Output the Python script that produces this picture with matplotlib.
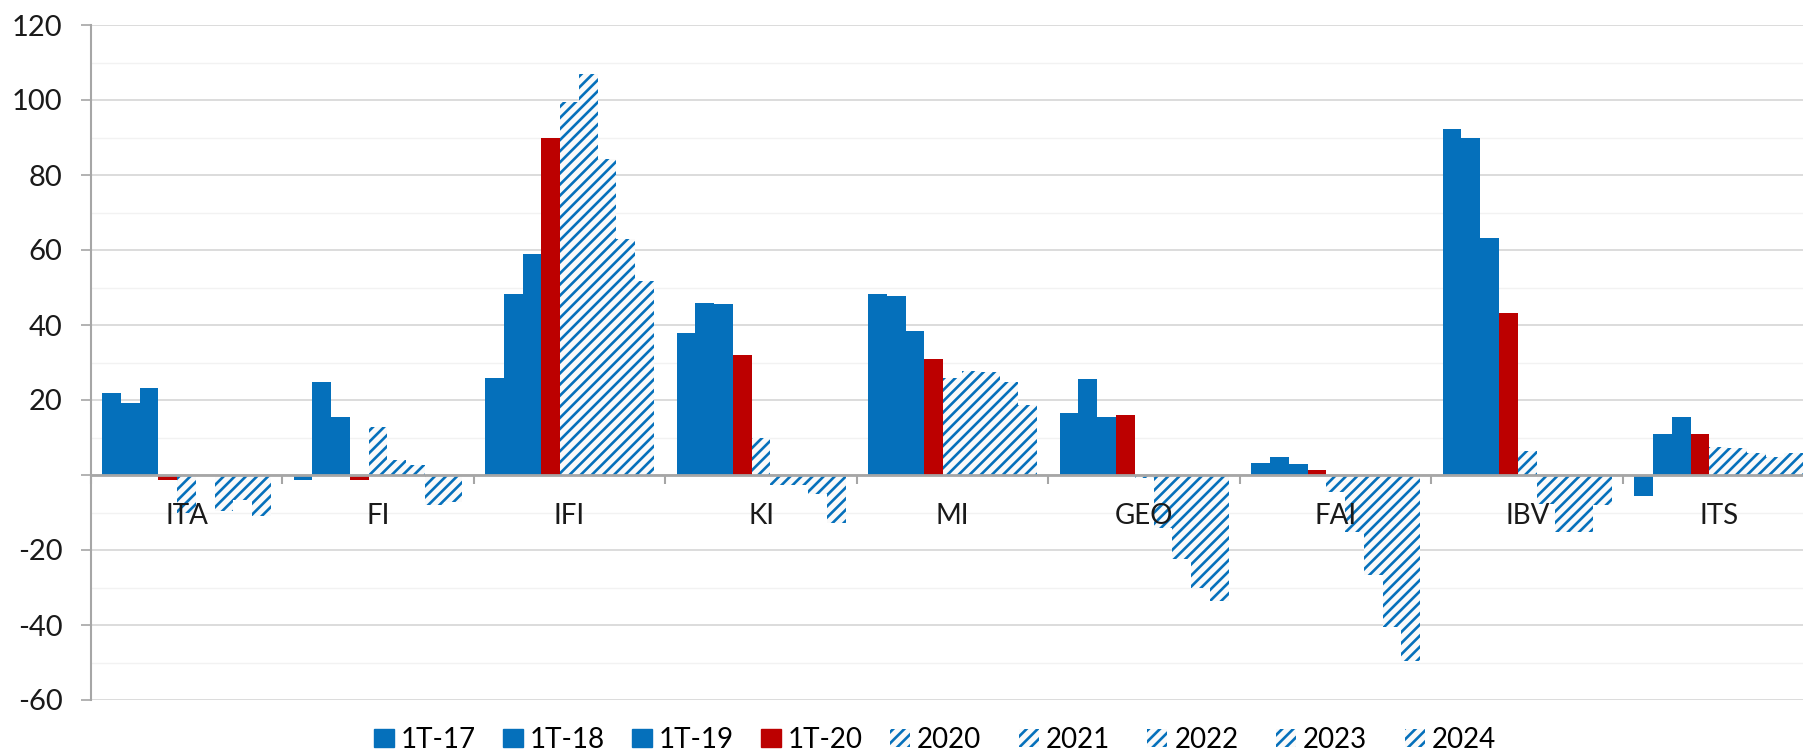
import numpy as np
import matplotlib
matplotlib.use("Agg")
import matplotlib.pyplot as plt
from matplotlib.patches import Patch

plt.rcParams['font.family'] = ['Lato', 'DejaVu Sans']
plt.rcParams['hatch.linewidth'] = 1.9

categories = ['ITA', 'FI', 'IFI', 'KI', 'MI', 'GEO', 'FAI', 'IBV', 'ITS']
series = ['1T-17', '1T-18', '1T-19', '1T-20', '2020', '2021', '2022', '2023', '2024']

v_1t17 = [21.8, -1.4, 25.8, 38.0, 48.4, 16.6, 3.3, 92.4, -5.6]
v_1t18 = [19.1, 24.9, 48.2, 46.0, 47.8, 25.5, 4.7, 89.9, 10.9]
v_1t19 = [23.1, 15.4, 58.9, 45.5, 38.4, 15.5, 2.9, 63.3, 15.6]
v_1t20 = [-1.2, -1.4, 89.8, 32.0, 30.9, 16.0, 1.3, 43.2, 10.9]
v_2020 = [-10.2, 12.9, 99.4, 10.0, 25.8, -0.8, -4.6, 6.5, 7.6]
v_2021 = [0.0, 4.0, 106.9, -2.7, 27.7, -14.1, -15.2, -7.7, 7.1]
v_2022 = [-9.5, 2.7, 84.3, -2.7, 27.6, -22.3, -26.6, -15.3, 6.0]
v_2023 = [-6.7, -8.0, 62.9, -5.1, 24.7, -30.2, -40.5, -15.3, 4.9]
v_2024 = [-10.8, -7.3, 51.8, -12.9, 18.7, -33.7, -49.7, -8.0, 6.0]

values = [v_1t17, v_1t18, v_1t19, v_1t20, v_2020, v_2021, v_2022, v_2023, v_2024]

blue = '#0570BB'
red = '#BC0000'
grey = '#A6A6A6'
hatched = dict(facecolor='#FAFAFA', edgecolor=blue, hatch='///', linewidth=0)
# solid, solid, solid, red, then hatched
styles = [dict(color=blue), dict(color=blue), dict(color=blue), dict(color=red),
          hatched, hatched, hatched, hatched, hatched]

fig = plt.figure(figsize=(18.03, 7.55), dpi=100)
ax = fig.add_axes([90.7 / 1803, 55 / 755, (1803 - 90.7) / 1803, 675 / 755])

x = np.arange(len(categories))
w = 0.098
n = len(series)
for k in range(n):
    pos = x - n * w / 2 + (k + 0.5) * w
    ax.bar(pos, values[k], width=w, zorder=2, **styles[k])

ax.set_xlim(-0.5, 8.44)
ax.set_ylim(-60, 120)

# y axis
ax.set_yticks(np.arange(-60, 121, 20))
ax.set_yticklabels(['' if t == 0 else str(t) for t in range(-60, 121, 20)])
ax.set_yticks(np.arange(-50, 120, 20), minor=True)
ax.tick_params(axis='y', which='major', length=7.2, width=1.2, color=grey,
               pad=13, labelsize=21, labelcolor='#1a1a1a')
ax.tick_params(axis='y', which='minor', length=0)
ax.set_axisbelow(True)
ax.yaxis.grid(True, which='major', color='#D9D9D9', linewidth=1.3)
ax.yaxis.grid(True, which='minor', color='#F2F2F2', linewidth=1.0)

# x axis at zero
ax.spines['bottom'].set_position(('data', 0))
ax.spines['bottom'].set_color(grey)
ax.spines['bottom'].set_linewidth(2)
ax.spines['left'].set_color(grey)
ax.spines['left'].set_linewidth(1.5)
ax.spines['top'].set_visible(False)
ax.spines['right'].set_visible(False)
ax.set_xticks(np.arange(-0.5, 8.5, 1.0))
ax.set_xticklabels([])
ax.tick_params(axis='x', which='major', length=6.5, width=1.5, color=grey, direction='out')

for i, c in enumerate(categories):
    ax.annotate(c, xy=(i, 0), xytext=(0, -20), textcoords='offset points',
                ha='center', va='top', fontsize=20, color='#1a1a1a', zorder=5)

# legend entries at equal spacing, like the original
leg_x0 = 374 / 1803
leg_step = 128.9 / 1803
for k, s in enumerate(series):
    leg = fig.legend(handles=[Patch(label=s, **styles[k])], loc='center left',
                     bbox_to_anchor=(leg_x0 + k * leg_step, 0.02), frameon=False,
                     fontsize=20, handlelength=0.72, handleheight=0.61,
                     handletextpad=0.25, borderpad=0, borderaxespad=0)

fig.savefig('out.png', dpi=100)
